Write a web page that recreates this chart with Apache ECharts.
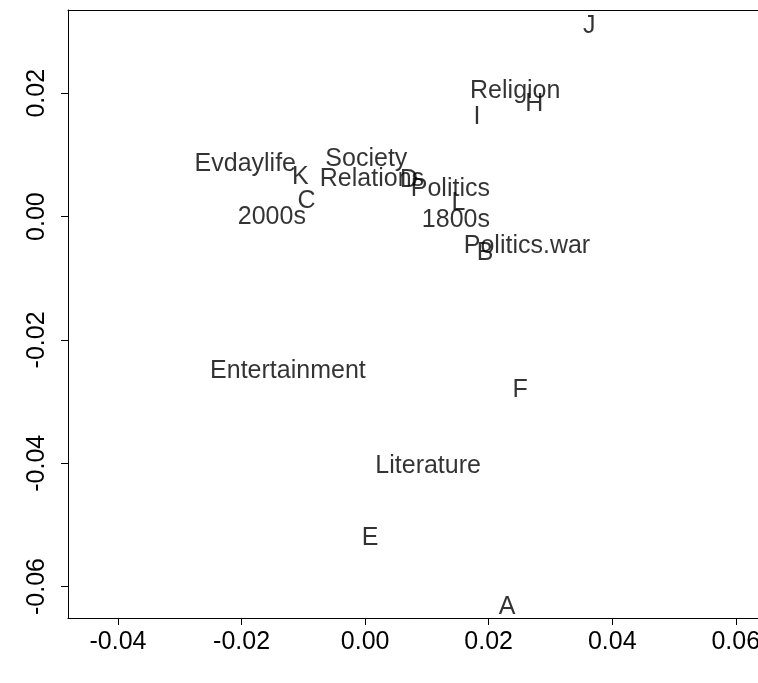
<!DOCTYPE html>
<html>
<head>
<meta charset="utf-8">
<script src="https://cdn.jsdelivr.net/npm/echarts@6/dist/echarts.min.js"></script>
<style>
html,body{margin:0;padding:0;background:#fff;overflow:hidden;}
#chart{width:758px;height:683px;}
</style>
</head>
<body>
<div id="chart"></div>
<script>
const labels = ['J','Religion','H','I','Evdaylife','K','C','2000s','Society','Relations','D','Politics','L','1800s','Politics.war','B','Entertainment','F','Literature','E','A'];
const xs = [0.0363, 0.0243, 0.0274, 0.0181, -0.0194, -0.0105, -0.0095, -0.0151, 0.0002, 0.0011, 0.0071, 0.0138, 0.0151, 0.0147, 0.0262, 0.0194, -0.0125, 0.0251, 0.0102, 0.0008, 0.0230];
const ys = [0.0309, 0.0204, 0.0182, 0.0161, 0.0085, 0.0064, 0.0025, -0.0001, 0.0093, 0.0061, 0.0059, 0.0045, 0.0022, -0.0006, -0.0048, -0.0059, -0.0251, -0.0282, -0.0405, -0.0521, -0.0633];
const xTicks = [-0.04, -0.02, 0.00, 0.02, 0.04, 0.06];
const yTicks = [-0.06, -0.04, -0.02, 0.00, 0.02];

const FONT = "'Liberation Sans', Arial, sans-serif";
const chart = echarts.init(document.getElementById('chart'), null, { width: 758, height: 683 });
const data = labels.map((n, i) => ({ name: n, value: [xs[i], ys[i]] }));
const lineStyle = { color: '#000', width: 1 };
chart.setOption({
  animation: false,
  backgroundColor: '#fff',
  grid: { left: 68, right: 0, top: 10, bottom: 65, containLabel: false, outerBoundsMode: 'none' },
  xAxis: [{
    type: 'value', min: -0.0481, max: 0.0636,
    axisLine: { show: true, onZero: false, lineStyle },
    axisTick: { show: true, length: 7, customValues: xTicks, lineStyle },
    axisLabel: { show: true, customValues: xTicks, margin: 12, color: '#000', fontSize: 25, fontFamily: FONT,
      formatter: v => v.toFixed(2) },
    splitLine: { show: false }
  }, {
    type: 'value', position: 'top', min: -0.0481, max: 0.0636,
    axisLine: { show: true, onZero: false, lineStyle },
    axisTick: { show: false }, axisLabel: { show: false }, splitLine: { show: false }
  }],
  yAxis: {
    type: 'value', min: -0.0651, max: 0.0335,
    axisLine: { show: true, onZero: false, lineStyle },
    axisTick: { show: true, length: 7, customValues: yTicks, lineStyle },
    axisLabel: { show: true, customValues: yTicks, rotate: 90, margin: 18, color: '#000', fontSize: 25, fontFamily: FONT,
      formatter: v => v.toFixed(2) },
    splitLine: { show: false }
  },
  series: [{
    type: 'scatter',
    data: data,
    symbolSize: 1,
    itemStyle: { color: 'rgba(0,0,0,0)' },
    label: {
      show: true, position: 'inside', formatter: p => p.name, offset: [0, 2],
      color: '#000', fontSize: 25, fontFamily: FONT, align: 'center', verticalAlign: 'middle'
    },
    labelLayout: { hideOverlap: false },
    emphasis: { disabled: true }
  }]
});
</script>
</body>
</html>
